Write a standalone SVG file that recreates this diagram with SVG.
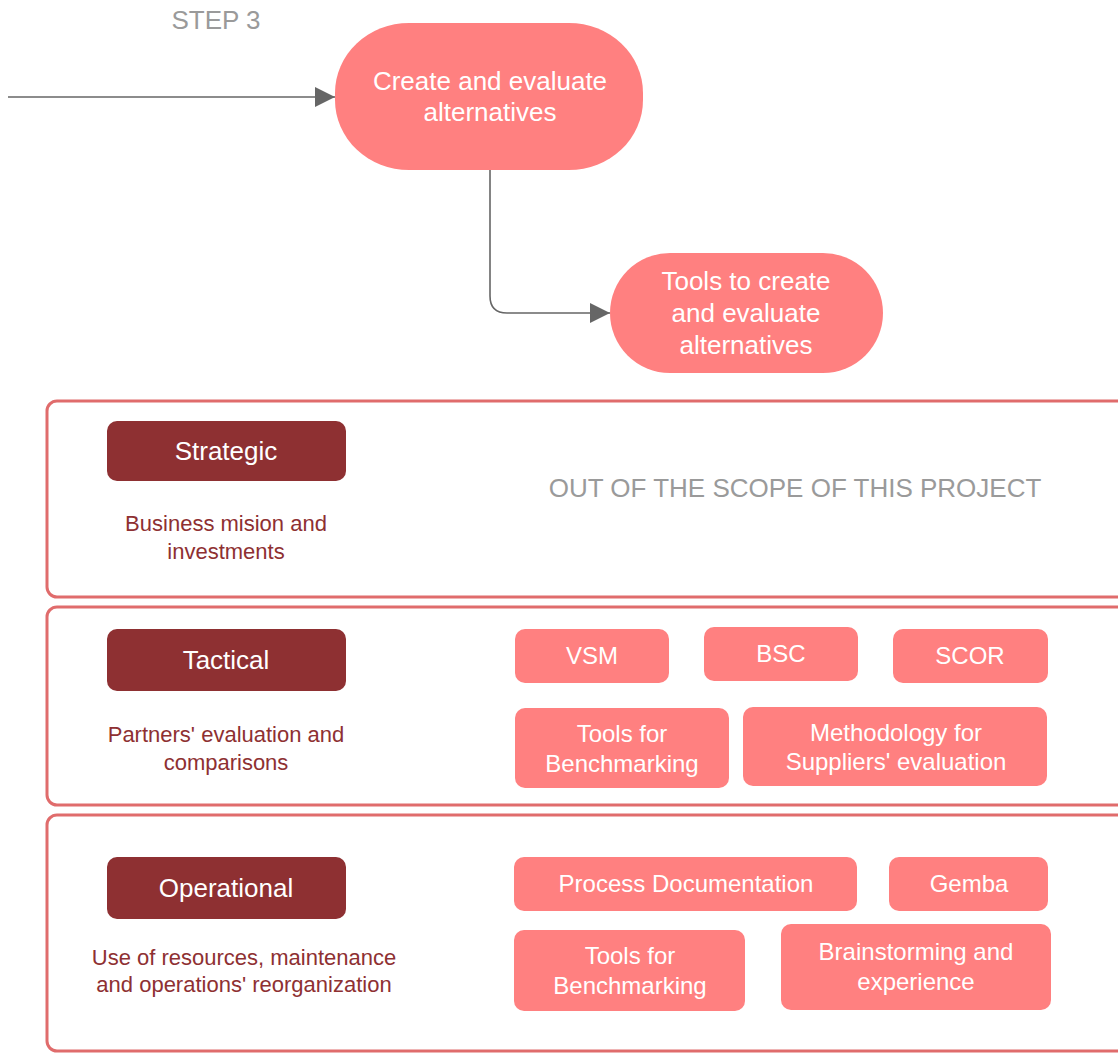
<svg xmlns="http://www.w3.org/2000/svg" width="1118" height="1053" viewBox="0 0 1118 1053">
  <style>
    text { font-family: "Liberation Sans", Arial, sans-serif; text-anchor: middle; }
    .pill { fill: #ff8080; }
    .pill-text { fill: #ffffff; font-size: 26px; }
    .tool { fill: #ff8080; }
    .tool-text { fill: #ffffff; font-size: 24px; }
    .level { fill: #8e3032; }
    .level-text { fill: #ffffff; font-size: 26px; }
    .desc { fill: #8e3032; font-size: 22px; }
    .panel { fill: #ffffff; stroke: #e06c6c; stroke-width: 3; }
    .note { fill: #9a9a9a; font-size: 26px; }
    .edge { fill: none; stroke: #666666; stroke-width: 1.6; }
  </style>
  <defs>
    <marker id="arrow" viewBox="0 0 10 10" refX="10" refY="5" markerWidth="27" markerHeight="20" markerUnits="userSpaceOnUse" orient="auto">
      <path d="M0,0 L10,5 L0,10 Z" fill="#666666"/>
    </marker>
  </defs>
  <rect width="1118" height="1053" fill="#ffffff"/>

  <text class="note" x="216" y="29">STEP 3</text>

  <!-- connectors -->
  <g id="connectors">
    <path class="edge" d="M8,97 L335,97" marker-end="url(#arrow)"/>
    <path class="edge" d="M490,170 L490,296 Q490,313 507,313 L610,313" marker-end="url(#arrow)"/>
  </g>

  <g id="create-evaluate">
    <rect class="pill" x="335" y="23" width="308" height="147" rx="74" ry="70"/>
    <text class="pill-text" x="490" y="90">Create and evaluate</text>
    <text class="pill-text" x="490" y="121">alternatives</text>
  </g>

  <g id="tools-create-evaluate">
    <rect class="pill" x="610" y="253" width="273" height="120" rx="60" ry="60"/>
    <text class="pill-text" x="746" y="290">Tools to create</text>
    <text class="pill-text" x="746" y="322">and evaluate</text>
    <text class="pill-text" x="746" y="354">alternatives</text>
  </g>

  <!-- strategic level -->
  <g id="strategic-panel">
    <rect class="panel" x="47" y="401" width="1090" height="196" rx="10"/>
    <rect class="level" x="107" y="421" width="239" height="60" rx="10"/>
    <text class="level-text" x="226" y="460">Strategic</text>
    <text class="desc" x="226" y="531">Business mision and</text>
    <text class="desc" x="226" y="559">investments</text>
    <text class="note" x="795" y="497">OUT OF THE SCOPE OF THIS PROJECT</text>
  </g>

  <!-- tactical level -->
  <g id="tactical-panel">
    <rect class="panel" x="47" y="607" width="1090" height="198" rx="10"/>
    <rect class="level" x="107" y="629" width="239" height="62" rx="10"/>
    <text class="level-text" x="226" y="669">Tactical</text>
    <text class="desc" x="226" y="742">Partners' evaluation and</text>
    <text class="desc" x="226" y="770">comparisons</text>
  </g>
  <g id="vsm">
    <rect class="tool" x="515" y="629" width="154" height="54" rx="10"/>
    <text class="tool-text" x="592" y="664">VSM</text>
  </g>
  <g id="bsc">
    <rect class="tool" x="704" y="627" width="154" height="54" rx="10"/>
    <text class="tool-text" x="781" y="662">BSC</text>
  </g>
  <g id="scor">
    <rect class="tool" x="893" y="629" width="155" height="54" rx="10"/>
    <text class="tool-text" x="970" y="664">SCOR</text>
  </g>
  <g id="tactical-benchmarking">
    <rect class="tool" x="515" y="708" width="214" height="80" rx="10"/>
    <text class="tool-text" x="622" y="742">Tools for</text>
    <text class="tool-text" x="622" y="772">Benchmarking</text>
  </g>
  <g id="suppliers-evaluation">
    <rect class="tool" x="743" y="707" width="304" height="79" rx="10"/>
    <text class="tool-text" x="896" y="741">Methodology for</text>
    <text class="tool-text" x="896" y="770">Suppliers' evaluation</text>
  </g>

  <!-- operational level -->
  <g id="operational-panel">
    <rect class="panel" x="47" y="815" width="1090" height="236" rx="10"/>
    <rect class="level" x="107" y="857" width="239" height="62" rx="10"/>
    <text class="level-text" x="226" y="897">Operational</text>
    <text class="desc" x="244" y="965">Use of resources, maintenance</text>
    <text class="desc" x="244" y="992">and operations' reorganization</text>
  </g>
  <g id="process-documentation">
    <rect class="tool" x="514" y="857" width="343" height="54" rx="10"/>
    <text class="tool-text" x="686" y="892">Process Documentation</text>
  </g>
  <g id="gemba">
    <rect class="tool" x="889" y="857" width="159" height="54" rx="10"/>
    <text class="tool-text" x="969" y="892">Gemba</text>
  </g>
  <g id="operational-benchmarking">
    <rect class="tool" x="514" y="930" width="231" height="81" rx="10"/>
    <text class="tool-text" x="630" y="964">Tools for</text>
    <text class="tool-text" x="630" y="994">Benchmarking</text>
  </g>
  <g id="brainstorming">
    <rect class="tool" x="781" y="924" width="270" height="86" rx="10"/>
    <text class="tool-text" x="916" y="960">Brainstorming and</text>
    <text class="tool-text" x="916" y="990">experience</text>
  </g>
</svg>
